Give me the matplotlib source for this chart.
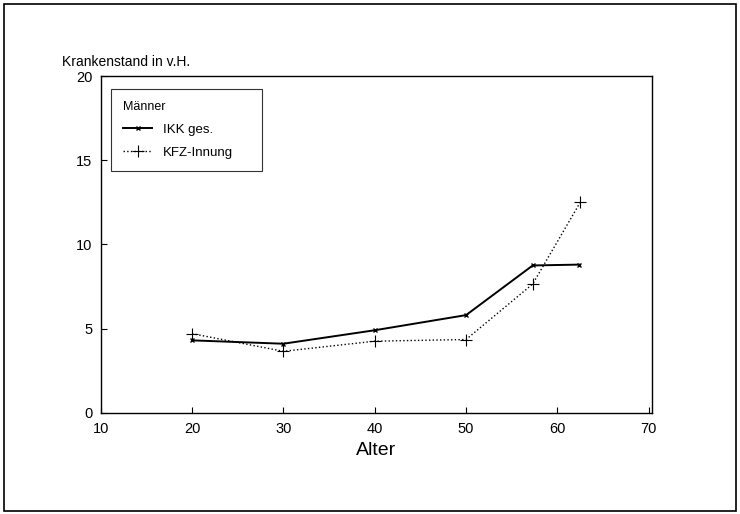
import matplotlib
matplotlib.use("Agg")
import matplotlib.pyplot as plt
from matplotlib.patches import Rectangle

# Krankenstand nach Alter, Männer
alter_ikk = [20, 30, 40, 50, 57.3, 62.4]
ikk_ges = [4.3, 4.1, 4.9, 5.8, 8.75, 8.8]

alter_kfz = [20, 30, 40, 50, 57.3, 62.5]
kfz_innung = [4.7, 3.65, 4.25, 4.35, 7.65, 12.5]

x_ticks = [10, 20, 30, 40, 50, 60, 70]
y_ticks = [0, 5, 10, 15, 20]

plt.rcParams["font.family"] = ["Liberation Sans", "DejaVu Sans"]

fig = plt.figure(figsize=(7.4, 5.14), dpi=100)
ax = fig.add_axes([0.136, 0.197, 0.745, 0.655])

ax.plot(alter_ikk, ikk_ges, color="black", linewidth=1.4, marker="x",
        markersize=3, markeredgewidth=1.0, label="IKK ges.")
ax.plot(alter_kfz, kfz_innung, color="black", linewidth=1.0, linestyle=":",
        marker="+", markersize=9, markeredgewidth=0.8, label="KFZ-Innung")

ax.set_xlim(10, 70.35)
ax.set_ylim(0, 20)
ax.set_xticks(x_ticks)
ax.set_yticks(y_ticks)
ax.tick_params(direction="in", length=4, width=0.8, labelsize=10.5, pad=7)
ax.tick_params(axis="y", pad=6)
for s in ax.spines.values():
    s.set_linewidth(1.0)

ax.set_xlabel("Alter", fontsize=14, labelpad=4)
fig.text(62 / 740, 1 - 62 / 514, "Krankenstand in v.H.", fontsize=10,
         ha="left", va="center")

leg = ax.legend(title="Männer", loc="upper left",
                bbox_to_anchor=(0.019, 0.70, 0.274, 0.261), mode="expand",
                borderaxespad=0, fontsize=9.5, title_fontsize=9, frameon=True,
                fancybox=False, edgecolor="black", handlelength=2.2,
                borderpad=0.9, labelspacing=0.8)
leg._legend_box.align = "left"
leg.get_frame().set_linewidth(0.8)

# Rahmen um die ganze Abbildung
fig.patches.append(Rectangle((4 / 740, 3 / 514), 732 / 740, 507 / 514,
                             transform=fig.transFigure, fill=False,
                             edgecolor="black", linewidth=1.2))

fig.savefig("out.png", dpi=100)
